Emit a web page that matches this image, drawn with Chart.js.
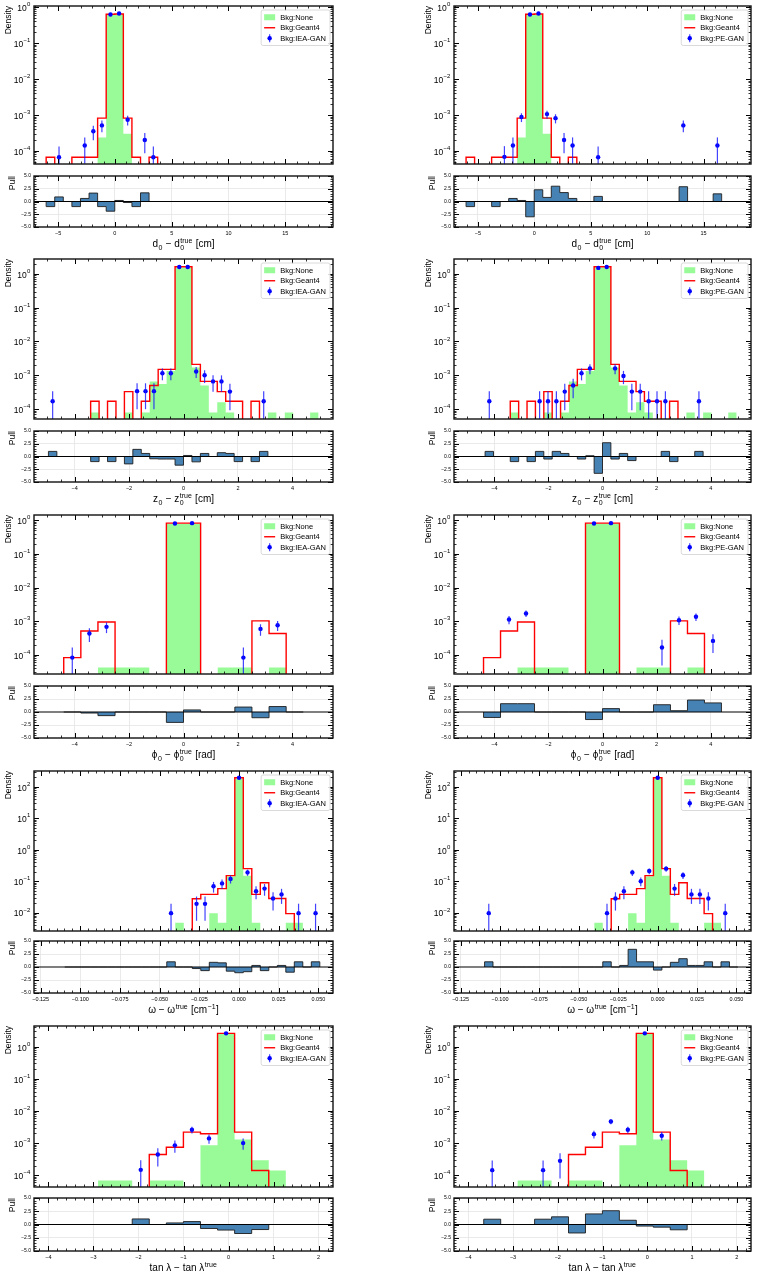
<!DOCTYPE html>
<html>
<head>
<meta charset="utf-8">
<script src="https://cdn.jsdelivr.net/npm/chart.js@4.4.1/dist/chart.umd.min.js"></script>
<style>
  body { margin: 0; background: #fff; }
  #fig { position: relative; width: 757px; height: 1275px; overflow: hidden; background: #fff; }
  #fig canvas { position: absolute; }
</style>
</head>
<body>
<div id="fig"></div>
<script>
// ---------- data (densities per bin, 0 = empty bin) ----------

// d0 - d0_true [cm]
const d0Start = -6.05, d0Width = 0.755;
const d0None  = [0,0,0,0,0,0,2.35e-4,0.61,0.62,3.0e-4,0,0,0,0,0,0,0,0,0,0,0,0,0,0,0,0,0,0,0,0];
const d0Geant = [6.6e-5,0,0,6.6e-5,6.6e-5,6.6e-5,8.1e-4,0.63,0.64,8.1e-4,6.6e-5,0,6.6e-5,0,0,0,0,0,0,0,0,0,0,0,0,0,0,0,0,0];
const d0Iea   = [0,6.6e-5,0,0,1.4e-4,3.5e-4,5.1e-4,0.62,0.66,7.3e-4,0,2.0e-4,6.6e-5,0,0,0,0,0,0,0,0,0,0,0,0,0,0,0,0,0];
const d0Pe    = [0,0,0,0,6.8e-5,1.4e-4,8.7e-4,0.62,0.66,1.05e-3,8.1e-4,2.0e-4,1.4e-4,0,0,6.6e-5,0,0,0,0,0,0,0,0,0,5.1e-4,0,0,0,1.4e-4];
const d0PullIea = [-1.0,0.9,0,-1.0,0.6,1.65,-1.0,-1.9,0.2,-0.2,-1.0,1.7,0,0,0,0,0,0,0,0,0,0,0,0,0,0,0,0,0,0];
const d0PullPe  = [-1.0,0,0,-1.0,0,0.6,0.2,-3.0,2.3,0.8,3.0,1.75,0.6,0,0,1.0,0,0,0,0,0,0,0,0,0,2.9,0,0,0,1.5];
const d0Unit = 6.6e-5;           // density of a single entry
const d0XRange = [-7.12, 19.2], d0YRange = [4.3e-5, 1.07];

// z0 - z0_true [cm]
const z0Start = -4.96, z0Width = 0.31;
const z0None  = [0,0,0,0,0,8e-5,0,0,0,8e-5,0,8e-5,6.5e-4,5.5e-4,1.35e-3,1.55,1.55,1.7e-3,5e-4,8e-5,1.6e-4,8e-5,0,0,0,0,8e-5,0,8e-5,0,0,8e-5];
const z0Geant = [0,0,0,0,0,1.7e-4,0,1.7e-4,0,3.3e-4,0,1.7e-4,5e-4,1.5e-3,1.5e-3,1.62,1.62,2.1e-3,6.6e-4,6.6e-4,3.3e-4,1.7e-4,1.7e-4,0,1.7e-4,0,0,0,0,0,0,0];
const z0Iea   = [1.7e-4,0,0,0,0,0,0,0,0,0,3.4e-4,3.4e-4,3.4e-4,1.15e-3,1.15e-3,1.6,1.6,1.3e-3,1.0e-3,6.6e-4,6.6e-4,3.3e-4,0,0,0,1.7e-4,0,0,0,0,0,0];
const z0Pe    = [0,0,1.7e-4,0,0,0,0,0,1.7e-4,1.7e-4,1.7e-4,3.3e-4,5e-4,1.15e-3,1.6e-3,1.5,1.6,1.6e-3,9.5e-4,3.3e-4,3.3e-4,1.7e-4,1.7e-4,1.7e-4,0,0,0,1.7e-4,0,0,0,0];
const z0PullIea = [1.0,0,0,0,0,-1.0,0,-1.0,0,-1.45,1.4,0.6,-0.45,-0.5,-0.5,-1.7,0.2,-1.05,0.6,0,0.75,0.6,-1.0,0,-1.0,1.0,0,0,0,0,0,0];
const z0PullPe  = [0,0,1.0,0,0,-1.0,0,-1.0,1.0,-0.5,1.0,0.6,0,-0.5,0.15,-3.3,2.7,-0.5,0.6,-0.8,0,0,0,1.0,-1.0,0,0,1.0,0,0,0,0];
const z0Unit = 1.7e-4;
const z0XRange = [-5.49, 5.49], z0YRange = [5.1e-5, 2.75];

// phi0 - phi0_true [rad]
const phiStart = -7 * Math.PI / 5, phiWidth = Math.PI / 5;
const phiNone  = [0,0,4.2e-5,4.2e-5,4.2e-5,0,0.79,0.79,0,4.2e-5,4.2e-5,0,4.2e-5,0];
const phiGeant = [8.3e-5,5.1e-4,9.5e-4,0,0,0,0.82,0.82,0,0,0,1.02e-3,4.3e-4,0];
const phiIea   = [8.3e-5,4.3e-4,6.8e-4,0,0,0,0.8,0.82,0,0,8.3e-5,5.9e-4,7.6e-4,0];
const phiPe    = [0,1.12e-3,1.7e-3,0,0,0,0.8,0.82,0,0,1.65e-4,1.07e-3,1.35e-3,2.6e-4];
const phiPullIea = [0,-0.2,-0.7,0,0,0,-2.0,0.4,0,0,0.95,-1.1,1.05,0];
const phiPullPe  = [-1.05,1.6,1.6,0,0,0,-1.45,0.65,0,0,1.4,0.25,2.3,1.75];
const phiUnit = 8.3e-5;
const phiXRange = [-5.49, 5.49], phiYRange = [2.7e-5, 1.43];

// omega - omega_true [1/cm]
const omStart = -0.10982, omWidth = 0.005357;
const omNone  = [0,0,0,0,0,0,0,0,0,0,0,0,0,4.8e-3,0,0,0,9.6e-3,4.8e-3,0.14,185,0.15,4.8e-3,0,0,0,4.8e-3,4.8e-3,0,0];
const omGeant = [0,0,0,0,0,0,0,0,0,0,0,0,0,0,0,0.0277,0.038,0.038,0.058,0.15,195,0.25,0.038,0.089,0.028,0.028,0.0093,0,0,0];
const omIea   = [0,0,0,0,0,0,0,0,0,0,0,0,9.6e-3,0,0,0.019,0.019,0.069,0.085,0.118,195,0.19,0.048,0.058,0.028,0.038,0,9.6e-3,0,9.6e-3];
const omPe    = [9.6e-3,0,0,0,0,0,0,0,0,0,0,0,0,0,9.6e-3,0.028,0.048,0.19,0.1,0.21,195,0.25,0.058,0.155,0.038,0.038,0.028,0,9.6e-3,0];
const omPullIea = [0,0,0,0,0,0,0,0,0,0,0,0,1.0,0,0,-0.3,-0.7,0.9,0.8,-0.8,-1.1,-0.9,0.3,-0.7,0,0.3,-1.0,1.0,0,1.0];
const omPullPe  = [1.0,0,0,0,0,0,0,0,0,0,0,0,0,0,1.0,0,0.3,3.4,1.0,1.0,-0.6,0,0.9,1.6,0.3,0.3,1.0,0,1.0,0];
const omUnit = 9.6e-3;
const omXRange = [-0.1292, 0.0592], omYRange = [2.6e-3, 320];

// tan(lambda) - tan(lambda)_true
const tanStart = -4.034, tanWidth = 0.379;
const tanNone  = [0,0,0,6.9e-5,6.9e-5,0,6.9e-5,6.9e-5,0,8.5e-4,2.5,1.3e-3,2.9e-4,1.4e-4,0];
const tanGeant = [0,0,0,0,0,0,4.4e-4,7.4e-4,2.2e-3,1.95e-3,2.6,2.2e-3,1.4e-4,0,0];
const tanIea   = [0,0,0,0,0,1.47e-4,4.4e-4,8.5e-4,2.6e-3,1.4e-3,2.6,1.0e-3,0,0,0];
const tanPe    = [0,1.44e-4,0,0,1.44e-4,2.8e-4,0,1.9e-3,4.7e-3,2.6e-3,2.6,1.7e-3,0,0,0];
const tanPullIea = [0,0,0,0,0,1.05,0,0.3,0.55,-0.75,-1.05,-1.7,-0.95,0,0];
const tanPullPe  = [0,1.0,0,0,1.0,1.45,-1.6,2.0,2.6,0.8,-0.3,-0.5,-1.0,0,0];
const tanUnit = 1.44e-4;
const tanXRange = [-4.32, 2.32], tanYRange = [4.3e-5, 4.4];

// axis titles (rich text pieces)
const d0Title  = [{t: 'd'}, {sub: '0'}, {t: ' − d'}, {sub: '0', sup: 'true'}, {t: ' [cm]'}];
const z0Title  = [{t: 'z'}, {sub: '0'}, {t: ' − z'}, {sub: '0', sup: 'true'}, {t: ' [cm]'}];
const phiTitle = [{t: 'ϕ'}, {sub: '0'}, {t: ' − ϕ'}, {sub: '0', sup: 'true'}, {t: ' [rad]'}];
const omTitle  = [{t: 'ω − ω'}, {sup: 'true'}, {t: ' [cm'}, {sup: '−1'}, {t: ']'}];
const tanTitle = [{t: 'tan λ − tan λ'}, {sup: 'true'}];

// ---------- layout ----------
const SANS = '"Liberation Sans", Arial, Helvetica, sans-serif';
const FLOOR = 1e-9;
const colX = [34, 454], colW = [299, 297];
const mainTop = [5, 258, 514, 770, 1025], mainH = [160, 162, 161, 162, 163];
const pullTop = [173, 428, 683, 938, 1195], pullH = [54, 54, 55, 55, 56];
const YAXIS_W = 34;

function makeEdges(start, width, n) {
    const e = [];
    for (let i = 0; i <= n; i++) e.push(start + i * width);
    return e;
}

// step outline through the bin edges; on a log axis empty bins drop to "floor"
function stepPoints(edges, vals, floor, isLog) {
    const n = vals.length;
    const f = v => (isLog && !(v > 0)) ? floor : v;
    const pts = [{x: edges[0], y: floor}];
    vals.forEach((v, i) => pts.push({x: edges[i], y: f(v)}));
    pts.push({x: edges[n], y: f(vals[n - 1])});
    pts.push({x: edges[n], y: floor});
    return pts;
}

function minus(s) { return String(s).replace('-', '−'); }

function rangeVals(min, max, step) {
    const out = [];
    const eps = step * 1e-6;
    for (let v = Math.ceil((min - eps) / step) * step; v <= max + eps; v += step) out.push(v);
    return out;
}

function drawRich(ctx, segs, cx, baseY, size) {
    const big = size + 'px ' + SANS, small = (size * 0.7).toFixed(1) + 'px ' + SANS;
    let total = 0;
    const parts = segs.map(s => {
        let w;
        if (s.t) { ctx.font = big; w = ctx.measureText(s.t).width; }
        else {
            ctx.font = small;
            w = Math.max(s.sub ? ctx.measureText(s.sub).width : 0, s.sup ? ctx.measureText(s.sup).width : 0) + 1;
        }
        total += w;
        return Object.assign({w: w}, s);
    });
    let x = cx - total / 2;
    ctx.fillStyle = '#000';
    ctx.textAlign = 'left';
    ctx.textBaseline = 'alphabetic';
    parts.forEach(p => {
        if (p.t) { ctx.font = big; ctx.fillText(p.t, x, baseY); }
        else {
            ctx.font = small;
            if (p.sub) ctx.fillText(p.sub, x + 0.5, baseY + size * 0.28);
            if (p.sup) ctx.fillText(p.sup, x + 0.5, baseY - size * 0.45);
        }
        x += p.w;
    });
}

// mplhep-like decorations: frame, inward ticks, log labels, error bars, legend, x title
const hepStyle = {
    id: 'hepStyle',
    afterDatasetsDraw(chart, args, o) {
        const {ctx, chartArea: a} = chart;
        const x = chart.scales.x, y = chart.scales.y;
        ctx.save();
        ctx.beginPath();
        ctx.rect(a.left, a.top, a.right - a.left, a.bottom - a.top);
        ctx.clip();
        if (o.zeroLine) {
            const py = y.getPixelForValue(0);
            ctx.strokeStyle = '#000';
            ctx.lineWidth = 1.2;
            ctx.beginPath(); ctx.moveTo(a.left, py); ctx.lineTo(a.right, py); ctx.stroke();
        }
        chart.data.datasets.forEach(ds => {
            if (!ds.errs) return;
            ctx.strokeStyle = ds.errColor;
            ctx.lineWidth = 1.2;
            ds.data.forEach((pt, i) => {
                const e = ds.errs[i], px = x.getPixelForValue(pt.x);
                ctx.beginPath();
                ctx.moveTo(px, y.getPixelForValue(Math.max(pt.y - e, FLOOR)));
                ctx.lineTo(px, y.getPixelForValue(pt.y + e));
                ctx.stroke();
            });
        });
        ctx.restore();
    },
    afterDraw(chart, args, o) {
        const {ctx, chartArea: a} = chart;
        const x = chart.scales.x, y = chart.scales.y;
        ctx.save();
        ctx.strokeStyle = '#000';

        const xTick = (v, len) => {
            const px = Math.round(x.getPixelForValue(v)) + 0.5;
            ctx.beginPath();
            ctx.moveTo(px, a.bottom); ctx.lineTo(px, a.bottom - len);
            ctx.moveTo(px, a.top); ctx.lineTo(px, a.top + len);
            ctx.stroke();
        };
        const yTick = (v, len) => {
            const py = Math.round(y.getPixelForValue(v)) + 0.5;
            ctx.beginPath();
            ctx.moveTo(a.left, py); ctx.lineTo(a.left + len, py);
            ctx.moveTo(a.right, py); ctx.lineTo(a.right - len, py);
            ctx.stroke();
        };

        ctx.lineWidth = 0.8;
        rangeVals(x.min, x.max, o.xMinor).forEach(v => xTick(v, 2.5));
        ctx.lineWidth = 1;
        rangeVals(x.min, x.max, o.xMajor).forEach(v => xTick(v, 5));

        if (o.log) {
            const d0 = Math.floor(Math.log10(y.min)), d1 = Math.ceil(Math.log10(y.max));
            for (let d = d0; d <= d1; d++) {
                for (let m = 1; m <= 9; m++) {
                    const v = m * Math.pow(10, d);
                    if (v < y.min || v > y.max) continue;
                    ctx.lineWidth = m === 1 ? 1 : 0.8;
                    yTick(v, m === 1 ? 5 : 2.5);
                }
                const v10 = Math.pow(10, d);
                if (v10 >= y.min && v10 <= y.max) {
                    const py = y.getPixelForValue(v10);
                    const exp = minus(d);
                    ctx.font = '6px ' + SANS;
                    const we = ctx.measureText(exp).width;
                    ctx.font = '8.5px ' + SANS;
                    const wb = ctx.measureText('10').width;
                    const x0 = a.left - 4 - we - wb;
                    ctx.fillStyle = '#000';
                    ctx.textAlign = 'left';
                    ctx.textBaseline = 'middle';
                    ctx.fillText('10', x0, py + 1.5);
                    ctx.font = '6px ' + SANS;
                    ctx.fillText(exp, x0 + wb + 0.3, py - 2.5);
                }
            }
        } else {
            ctx.lineWidth = 0.8;
            rangeVals(y.min, y.max, o.yMinor).forEach(v => yTick(v, 2.5));
            ctx.lineWidth = 1;
            rangeVals(y.min, y.max, o.yMajor).forEach(v => yTick(v, 5));
        }

        // frame
        ctx.lineWidth = 1.4;
        ctx.strokeStyle = '#111';
        ctx.strokeRect(a.left, a.top, a.right - a.left, a.bottom - a.top);

        if (o.title) drawRich(ctx, o.title, (a.left + a.right) / 2, a.bottom + 20, 10);

        if (o.legend) {
            const items = chart.data.datasets.filter(ds => ds.kind)
                .sort((p, q) => p.legendRank - q.legendRank);
            ctx.font = '7.5px ' + SANS;
            const maxW = Math.max(...items.map(ds => ctx.measureText(ds.label).width));
            const rowH = 10.5, padX = 3, handleW = 11, gap = 5;
            const boxW = padX + handleW + gap + maxW + 4, boxH = items.length * rowH + 4;
            const bx = a.right - 3 - boxW, by = a.top + 4;
            ctx.beginPath();
            ctx.roundRect(bx, by, boxW, boxH, 2);
            ctx.fillStyle = 'rgba(255,255,255,0.85)';
            ctx.fill();
            ctx.strokeStyle = '#d0d0d0';
            ctx.lineWidth = 0.8;
            ctx.stroke();
            items.forEach((ds, r) => {
                const cy = by + 2 + rowH * (r + 0.5);
                const hx = bx + padX;
                if (ds.kind === 'fill') {
                    ctx.fillStyle = ds.backgroundColor;
                    ctx.fillRect(hx, cy - 3, handleW, 6);
                } else if (ds.kind === 'line') {
                    ctx.strokeStyle = ds.borderColor;
                    ctx.lineWidth = 1.4;
                    ctx.beginPath(); ctx.moveTo(hx, cy); ctx.lineTo(hx + handleW, cy); ctx.stroke();
                } else {
                    ctx.strokeStyle = ds.errColor;
                    ctx.lineWidth = 1.2;
                    ctx.beginPath(); ctx.moveTo(hx + handleW / 2, cy - 4); ctx.lineTo(hx + handleW / 2, cy + 4); ctx.stroke();
                    ctx.fillStyle = ds.pointBackgroundColor;
                    ctx.beginPath(); ctx.arc(hx + handleW / 2, cy, 2.2, 0, Math.PI * 2); ctx.fill();
                }
                ctx.fillStyle = '#000';
                ctx.font = '7.5px ' + SANS;
                ctx.textAlign = 'left';
                ctx.textBaseline = 'middle';
                ctx.fillText(ds.label, hx + handleW + gap, cy + 0.5);
            });
        }
        ctx.restore();
    }
};

const panels = [
    {row: 0, col: 0, start: d0Start, width: d0Width, none: d0None, geant: d0Geant, gan: d0Iea, ganLabel: 'Bkg:IEA-GAN', pull: d0PullIea, unit: d0Unit, xr: d0XRange, yr: d0YRange, xMajor: 5, xMinor: 1, dec: 0, title: d0Title},
    {row: 0, col: 1, start: d0Start, width: d0Width, none: d0None, geant: d0Geant, gan: d0Pe, ganLabel: 'Bkg:PE-GAN', pull: d0PullPe, unit: d0Unit, xr: d0XRange, yr: d0YRange, xMajor: 5, xMinor: 1, dec: 0, title: d0Title},
    {row: 1, col: 0, start: z0Start, width: z0Width, none: z0None, geant: z0Geant, gan: z0Iea, ganLabel: 'Bkg:IEA-GAN', pull: z0PullIea, unit: z0Unit, xr: z0XRange, yr: z0YRange, xMajor: 2, xMinor: 0.5, dec: 0, title: z0Title},
    {row: 1, col: 1, start: z0Start, width: z0Width, none: z0None, geant: z0Geant, gan: z0Pe, ganLabel: 'Bkg:PE-GAN', pull: z0PullPe, unit: z0Unit, xr: z0XRange, yr: z0YRange, xMajor: 2, xMinor: 0.5, dec: 0, title: z0Title},
    {row: 2, col: 0, start: phiStart, width: phiWidth, none: phiNone, geant: phiGeant, gan: phiIea, ganLabel: 'Bkg:IEA-GAN', pull: phiPullIea, unit: phiUnit, xr: phiXRange, yr: phiYRange, xMajor: 2, xMinor: 0.5, dec: 0, title: phiTitle},
    {row: 2, col: 1, start: phiStart, width: phiWidth, none: phiNone, geant: phiGeant, gan: phiPe, ganLabel: 'Bkg:PE-GAN', pull: phiPullPe, unit: phiUnit, xr: phiXRange, yr: phiYRange, xMajor: 2, xMinor: 0.5, dec: 0, title: phiTitle},
    {row: 3, col: 0, start: omStart, width: omWidth, none: omNone, geant: omGeant, gan: omIea, ganLabel: 'Bkg:IEA-GAN', pull: omPullIea, unit: omUnit, xr: omXRange, yr: omYRange, xMajor: 0.025, xMinor: 0.005, dec: 3, title: omTitle},
    {row: 3, col: 1, start: omStart, width: omWidth, none: omNone, geant: omGeant, gan: omPe, ganLabel: 'Bkg:PE-GAN', pull: omPullPe, unit: omUnit, xr: omXRange, yr: omYRange, xMajor: 0.025, xMinor: 0.005, dec: 3, title: omTitle},
    {row: 4, col: 0, start: tanStart, width: tanWidth, none: tanNone, geant: tanGeant, gan: tanIea, ganLabel: 'Bkg:IEA-GAN', pull: tanPullIea, unit: tanUnit, xr: tanXRange, yr: tanYRange, xMajor: 1, xMinor: 0.2, dec: 0, title: tanTitle},
    {row: 4, col: 1, start: tanStart, width: tanWidth, none: tanNone, geant: tanGeant, gan: tanPe, ganLabel: 'Bkg:PE-GAN', pull: tanPullPe, unit: tanUnit, xr: tanXRange, yr: tanYRange, xMajor: 1, xMinor: 0.2, dec: 0, title: tanTitle}
];

function addCanvas(left, top, w, h) {
    const c = document.createElement('canvas');
    c.width = w; c.height = h;
    c.style.left = left + 'px'; c.style.top = top + 'px';
    c.style.width = w + 'px'; c.style.height = h + 'px';
    document.getElementById('fig').appendChild(c);
    return c;
}

const baseOpts = {
    responsive: false,
    animation: false,
    devicePixelRatio: 1,
    events: [],
    elements: {point: {radius: 0}, line: {tension: 0}}
};

panels.forEach(p => {
    const edges = makeEdges(p.start, p.width, p.none.length);
    const ganPts = [], ganErr = [];
    p.gan.forEach((v, i) => {
        if (v > 0) {
            ganPts.push({x: (edges[i] + edges[i + 1]) / 2, y: v});
            ganErr.push(Math.sqrt(v * p.unit));
        }
    });
    const left = colX[p.col] - YAXIS_W, w = YAXIS_W + colW[p.col] + 4;

    // main panel: log-scale densities
    const mainCanvas = addCanvas(left, mainTop[p.row] - 3, w, mainH[p.row] + 6);
    new Chart(mainCanvas, {
        type: 'line',
        data: {
            datasets: [
                {label: p.ganLabel, kind: 'err', legendRank: 2, data: ganPts, errs: ganErr,
                 errColor: 'rgba(20,20,255,0.8)', showLine: false, pointRadius: 2.2,
                 pointBackgroundColor: '#0000ff', pointBorderWidth: 0, borderColor: '#0000ff'},
                {label: 'Bkg:Geant4', kind: 'line', legendRank: 1, data: stepPoints(edges, p.geant, FLOOR, true),
                 stepped: true, borderColor: '#ff0000', borderWidth: 1.4, fill: false, pointRadius: 0},
                {label: 'Bkg:None', kind: 'fill', legendRank: 0, data: stepPoints(edges, p.none, FLOOR, true),
                 stepped: true, borderColor: 'rgba(0,0,0,0)', borderWidth: 0, backgroundColor: '#98fb98',
                 fill: 'start', pointRadius: 0}
            ]
        },
        options: Object.assign({}, baseOpts, {
            layout: {padding: {top: 3, right: 4, bottom: 3, left: 0}},
            plugins: {
                legend: {display: false}, tooltip: {enabled: false},
                hepStyle: {log: true, xMajor: p.xMajor, xMinor: p.xMinor, legend: true}
            },
            scales: {
                x: {type: 'linear', min: p.xr[0], max: p.xr[1], ticks: {display: false},
                    grid: {display: false}, border: {display: false},
                    afterFit: s => { s.height = 0; }},
                y: {type: 'logarithmic', min: p.yr[0], max: p.yr[1], ticks: {display: false},
                    grid: {display: false}, border: {display: false},
                    title: {display: true, text: 'Density', align: 'end', color: '#000',
                            font: {family: SANS, size: 8.5}, padding: {top: 4, bottom: 0}},
                    afterFit: s => { s.width = YAXIS_W; }}
            }
        }),
        plugins: [hepStyle]
    });

    // pull panel
    const pullCanvas = addCanvas(left, pullTop[p.row] - 3, w, pullH[p.row] + 29);
    new Chart(pullCanvas, {
        type: 'line',
        data: {
            datasets: [
                {label: 'Pull', data: stepPoints(edges, p.pull, 0, false), stepped: true, fill: 'origin',
                 backgroundColor: '#4682b4', borderColor: 'rgba(30,30,30,0.9)', borderWidth: 1, pointRadius: 0}
            ]
        },
        options: Object.assign({}, baseOpts, {
            layout: {padding: {top: 3, right: 4, bottom: 0, left: 0}},
            plugins: {
                legend: {display: false}, tooltip: {enabled: false},
                hepStyle: {log: false, xMajor: p.xMajor, xMinor: p.xMinor, yMajor: 2.5, yMinor: 0.5,
                           zeroLine: true, title: p.title}
            },
            scales: {
                x: {type: 'linear', min: p.xr[0], max: p.xr[1],
                    ticks: {stepSize: p.xMajor, includeBounds: false, autoSkip: false, maxRotation: 0,
                            color: '#000', padding: 3, font: {family: SANS, size: 5.5},
                            callback: v => minus(Number(v).toFixed(p.dec))},
                    grid: {color: '#e4e4e4', lineWidth: 0.8, drawTicks: false}, border: {display: false},
                    afterFit: s => { s.height = 26; }},
                y: {min: -5, max: 5,
                    ticks: {stepSize: 2.5, includeBounds: false, color: '#000', padding: 3,
                            font: {family: SANS, size: 5}, callback: v => minus(Number(v).toFixed(1))},
                    grid: {drawTicks: false, lineWidth: 0.8,
                           color: c => Math.abs(Math.abs(c.tick.value) - 2.5) < 1e-6 ? '#e4e4e4' : 'rgba(0,0,0,0)'},
                    border: {display: false},
                    title: {display: true, text: 'Pull', align: 'end', color: '#000',
                            font: {family: SANS, size: 8.5}, padding: {top: 8, bottom: 0}},
                    afterFit: s => { s.width = YAXIS_W; }}
            }
        }),
        plugins: [hepStyle]
    });
});
</script>
</body>
</html>
